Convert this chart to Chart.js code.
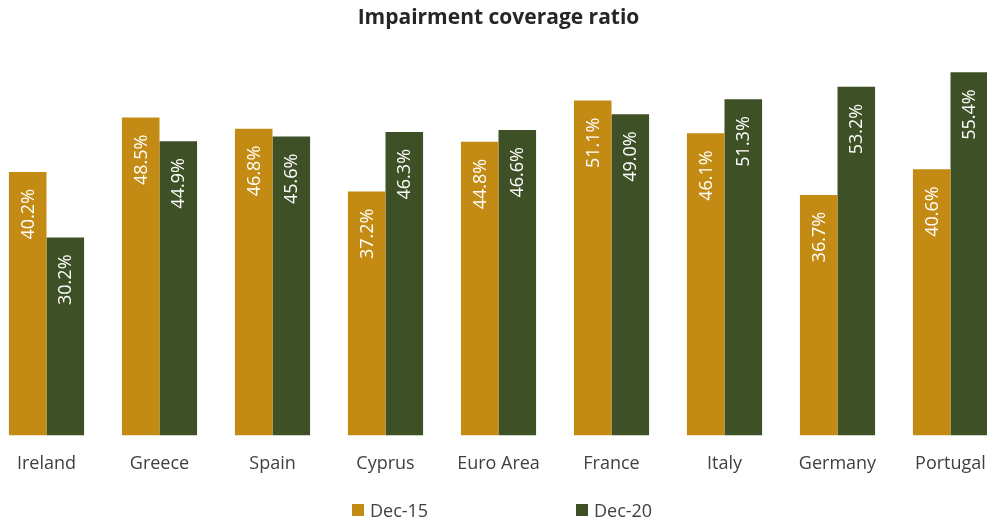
<!DOCTYPE html>
<html>
<head>
<meta charset="utf-8">
<script src="https://cdn.jsdelivr.net/npm/chart.js@4.4.1/dist/chart.umd.min.js"></script>
<style>
  html, body { margin: 0; padding: 0; background: #fff; overflow: hidden; }
  body { width: 987px; height: 519px; position: relative; }
  #wrap { position: absolute; left: -10px; top: 0; width: 1017px; height: 519px; }
  .leg { position: absolute; top: 498px; font: 18px "Open Sans", sans-serif; color: #404040; display: flex; align-items: center; }
  .leg i { display: inline-block; width: 12px; height: 12px; margin-right: 6px; }
</style>
</head>
<body>
<div id="wrap"><canvas id="coverageChart"></canvas></div>
<div class="leg" style="left:352px"><i style="background:#C38B14"></i>Dec-15</div>
<div class="leg" style="left:576px"><i style="background:#3E5025"></i>Dec-20</div>
<script>
// Impairment coverage ratio, Dec-15 vs Dec-20
const countries = ['Ireland', 'Greece', 'Spain', 'Cyprus', 'Euro Area', 'France', 'Italy', 'Germany', 'Portugal'];
const dec15 = [40.2, 48.5, 46.8, 37.2, 44.8, 51.1, 46.1, 36.7, 40.6];
const dec20 = [30.2, 44.9, 45.6, 46.3, 46.6, 49.0, 51.3, 53.2, 55.4];

const GOLD = '#C38B14';
const GREEN = '#3E5025';

// etiquetas verticales dentro de las barras
const barLabels = {
    id: 'barLabels',
    afterDatasetsDraw(chart) {
        const ctx = chart.ctx;
        ctx.save();
        ctx.font = '18px "Open Sans", sans-serif';
        ctx.fillStyle = '#ffffff';
        ctx.textAlign = 'right';
        ctx.textBaseline = 'middle';
        chart.data.datasets.forEach((ds, i) => {
            chart.getDatasetMeta(i).data.forEach((bar, j) => {
                ctx.save();
                ctx.translate(bar.x + 1, bar.y + 17);
                ctx.rotate(-Math.PI / 2);
                ctx.fillText(ds.data[j].toFixed(1) + '%', 0, 0);
                ctx.restore();
            });
        });
        ctx.restore();
    }
};

new Chart(document.getElementById('coverageChart'), {
    type: 'bar',
    data: {
        labels: countries,
        datasets: [
            { label: 'Dec-15', data: dec15, backgroundColor: GOLD },
            { label: 'Dec-20', data: dec20, backgroundColor: GREEN }
        ]
    },
    options: {
        responsive: true,
        maintainAspectRatio: false,
        animation: false,
        datasets: { bar: { categoryPercentage: 0.665, barPercentage: 1.0 } },
        layout: { padding: { top: 0, bottom: 26, left: 0, right: 0 } },
        plugins: {
            legend: { display: false },
            tooltip: { enabled: false },
            title: {
                display: true,
                text: 'Impairment coverage ratio',
                color: '#262626',
                font: { family: '"Open Sans", sans-serif', size: 21, weight: 'bold' },
                padding: { top: 5, bottom: 12 }
            }
        },
        scales: {
            x: {
                grid: { display: false, drawTicks: false },
                border: { display: false },
                ticks: {
                    color: '#404040',
                    padding: 18,
                    font: { family: '"Open Sans", sans-serif', size: 18 }
                }
            },
            y: {
                display: false,
                min: 0,
                max: 60
            }
        }
    },
    plugins: [barLabels]
});
</script>
</body>
</html>
